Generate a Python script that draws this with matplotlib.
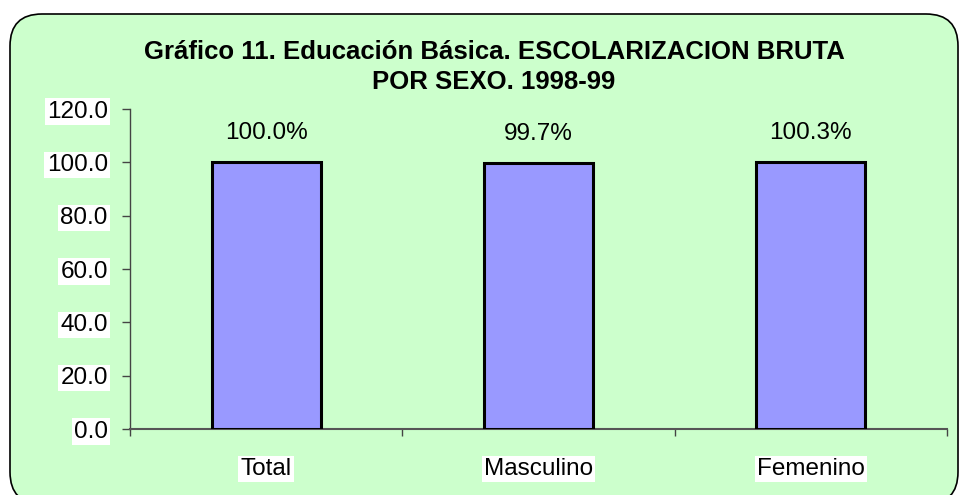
import matplotlib
matplotlib.use("Agg")
import matplotlib.pyplot as plt
from matplotlib.patches import FancyBboxPatch
from matplotlib.ticker import FixedLocator

categories = ["Total", "Masculino", "Femenino"]
values = [100.0, 99.7, 100.3]
value_labels = ["100.0%", "99.7%", "100.3%"]
yticks = [0, 20, 40, 60, 80, 100, 120]
title = "Gráfico 11. Educación Básica. ESCOLARIZACION BRUTA\nPOR SEXO. 1998-99"

plt.rcParams['font.family'] = ['Liberation Sans', 'DejaVu Sans']

W, H = 965, 495
fig = plt.figure(figsize=(W / 100, H / 100), dpi=100)
fig.patch.set_facecolor("white")

# background axes in pixel-like coordinates for the rounded green panel
bg = fig.add_axes([0, 0, 1, 1], zorder=0)
bg.set_xlim(0, W)
bg.set_ylim(H, 0)
bg.axis("off")
box = FancyBboxPatch((10, 14), 948, 490,
                     boxstyle="round,pad=0,rounding_size=32",
                     facecolor="#CCFFCC", edgecolor="black", linewidth=1.2)
bg.add_patch(box)

ax = fig.add_axes([130 / W, (H - 429) / H, (947 - 130) / W, (429 - 109) / H], zorder=1)
ax.set_facecolor("none")

x = list(range(len(categories)))
ax.bar(x, values, width=0.40, color="#9999FF", edgecolor="black", linewidth=2.2, zorder=3)

for xi, v, lab in zip(x, values, value_labels):
    ax.annotate(lab, (xi, v), xytext=(0, 29), textcoords="offset pixels",
                ha="center", va="center", fontsize=17.5, color="black")

ax.set_xlim(-0.5, len(categories) - 0.5)
ax.set_ylim(0, 120)
ax.set_yticks(yticks)
ax.set_yticklabels([f"{t:.1f}" for t in yticks], fontsize=17.5)
for lab in ax.get_yticklabels():
    lab.set_bbox(dict(facecolor="white", edgecolor="none", pad=1.5))

ax.set_xticks(x)
ax.set_xticklabels(categories, fontsize=17.5)
for lab in ax.get_xticklabels():
    lab.set_bbox(dict(facecolor="white", edgecolor="none", pad=1.5))
ax.xaxis.set_minor_locator(FixedLocator([i - 0.5 for i in range(len(categories) + 1)]))
ax.tick_params(axis="x", which="major", length=0, pad=21)
ax.tick_params(axis="x", which="minor", length=5, width=1.0, direction="out", color="#444444")
ax.tick_params(axis="y", which="major", length=6, width=1.0, direction="out", color="#444444", pad=10)

for s in ["top", "right"]:
    ax.spines[s].set_visible(False)
ax.spines["left"].set_color("#444444")
ax.spines["bottom"].set_color("#555555")
ax.spines["left"].set_linewidth(1.0)
ax.spines["bottom"].set_linewidth(1.5)

fig.text(494 / W, 1 - 67 / H, title, ha="center", va="center", fontsize=18.5,
         fontweight="bold", linespacing=1.35)

fig.savefig("out.png", dpi=100)
